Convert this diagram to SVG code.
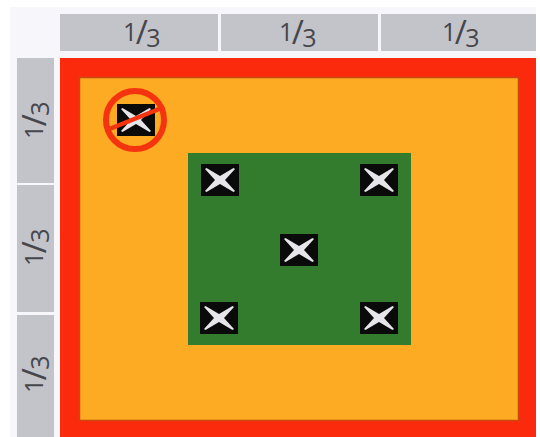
<svg xmlns="http://www.w3.org/2000/svg" width="540" height="437" viewBox="0 0 540 437">
<style>
.h{fill:#c3c3ca}
.t{font-family:"Open Sans","Noto Sans",sans-serif;font-size:25px;letter-spacing:-1.500px;fill:#46464c;text-anchor:middle}
.s{font-size:33px}
.x{fill:#e6e6ea}
</style>
<defs>
<filter id="soft" x="-10%" y="-10%" width="120%" height="120%"><feGaussianBlur stdDeviation="0.6"/></filter>
<g id="m">
<rect x="-19" y="-16" width="38" height="32" fill="#0a0a0a"/>
<path class="x" filter="url(#soft)" d="M-15-11L-13.500-12L0-4L13.500-12L15-11L5 0L15 11L13.500 12L0 4L-13.500 12L-15 11L-5 0Z"/>
</g>
</defs>
<rect width="540" height="437" fill="#ffffff"/>
<rect x="10" y="7" width="526" height="430" fill="#f6f6fb"/>
<g id="headers">
<rect class="h" x="60" y="14" width="158" height="37"/>
<rect class="h" x="221" y="14" width="157" height="37"/>
<rect class="h" x="381" y="14" width="155" height="37"/>
<rect class="h" x="17" y="58" width="37" height="125"/>
<rect class="h" x="17" y="185" width="37" height="127"/>
<rect class="h" x="17" y="315" width="37" height="122"/>
<text class="t" x="141" y="41"><tspan>1</tspan><tspan class="s" dy="3">/</tspan><tspan dy="3">3</tspan></text>
<text class="t" x="297" y="41"><tspan>1</tspan><tspan class="s" dy="3">/</tspan><tspan dy="3">3</tspan></text>
<text class="t" x="460" y="41"><tspan>1</tspan><tspan class="s" dy="3">/</tspan><tspan dy="3">3</tspan></text>
<text class="t" transform="translate(43 121) rotate(-90)"><tspan>1</tspan><tspan class="s" dy="3">/</tspan><tspan dy="3">3</tspan></text>
<text class="t" transform="translate(43 248) rotate(-90)"><tspan>1</tspan><tspan class="s" dy="3">/</tspan><tspan dy="3">3</tspan></text>
<text class="t" transform="translate(43 375) rotate(-90)"><tspan>1</tspan><tspan class="s" dy="3">/</tspan><tspan dy="3">3</tspan></text>
</g>
<g id="frame">
<rect x="60" y="58" width="476" height="379" fill="#fb2a0c"/>
<rect x="79.500" y="77.500" width="439" height="343" fill="#fdab22" stroke="#c9480f" stroke-width="1.500"/>
</g>
<g id="green">
<rect x="188" y="153" width="223" height="192" fill="#337c2e"/>
</g>
<g id="point-excluded">
<use href="#m" x="136" y="120"/>
<circle cx="135" cy="120" r="29" fill="none" stroke="#f4330f" stroke-width="6"/>
<path d="M107 130L164 107" stroke="#f4330f" stroke-width="4.500"/>
</g>
<g id="point-tl"><use href="#m" x="220" y="180"/></g>
<g id="point-tr"><use href="#m" x="379" y="180"/></g>
<g id="point-c"><use href="#m" x="299" y="250"/></g>
<g id="point-bl"><use href="#m" x="219" y="318"/></g>
<g id="point-br"><use href="#m" x="379" y="318"/></g>
</svg>
